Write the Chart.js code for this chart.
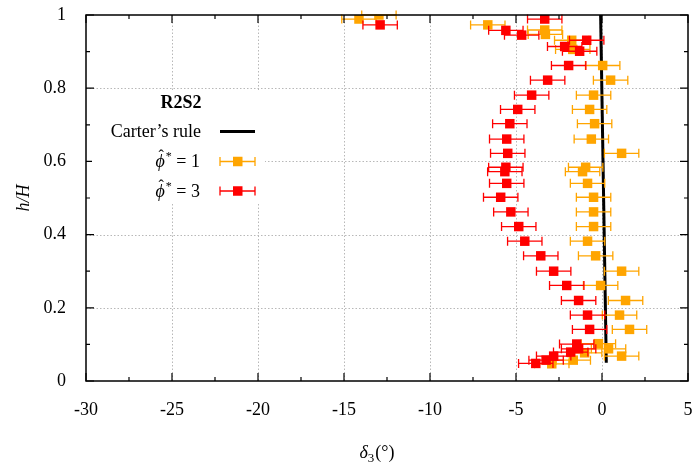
<!DOCTYPE html>
<html>
<head>
<meta charset="utf-8">
<script src="https://cdn.jsdelivr.net/npm/chart.js@4.4.1/dist/chart.umd.min.js"></script>
<style>
  html, body { margin: 0; padding: 0; background: #fff; }
  canvas { display: block; }
</style>
</head>
<body>
<canvas id="deltaChart" width="697" height="465"></canvas>
<script>
// phi* = 1 measurements (delta_3 in degrees, h/H, half width of error bar)
const phi1X = [-12.97, -14.13, -6.64, -3.33, -3.29, -1.76, -1.70, 0.04, 0.50, -0.49, -0.72,
  -0.43, -0.62, 1.14, -0.95, -1.13, -0.84, -0.49, -0.49, -0.49, -0.84, -0.37,
  1.14, -0.08, 1.37, 1.02, 1.60, -0.21, 0.38, -1.01, 1.14, -1.67, -2.92];
const phi1Y = [1.000, 0.989, 0.973, 0.959, 0.947, 0.931, 0.906, 0.862, 0.822, 0.781, 0.742,
  0.703, 0.661, 0.622, 0.584, 0.572, 0.540, 0.502, 0.462, 0.422, 0.382, 0.342,
  0.300, 0.261, 0.220, 0.180, 0.141, 0.102, 0.088, 0.077, 0.068, 0.057, 0.047];
const phi1Err = 1.0;

// phi* = 3 measurements
const phi3X = [-12.90, -3.33, -5.59, -4.67, -0.89, -2.17, -1.30, -1.94, -3.16, -4.09, -4.90,
  -5.36, -5.54, -5.48, -5.59, -5.65, -5.54, -5.89, -5.30, -4.84, -4.49, -3.56,
  -2.81, -2.05, -1.36, -0.84, -0.72, -1.47, -1.36, -1.82, -2.81, -3.25, -3.85];
const phi3Y = [0.973, 0.989, 0.958, 0.945, 0.931, 0.914, 0.901, 0.862, 0.822, 0.781, 0.742,
  0.703, 0.661, 0.622, 0.584, 0.572, 0.540, 0.502, 0.462, 0.422, 0.382, 0.342,
  0.300, 0.261, 0.220, 0.180, 0.141, 0.101, 0.088, 0.079, 0.068, 0.057, 0.048];
const phi3Err = 1.0;

// Carter's rule prediction
const carterX = [0.25, -0.08];
const carterY = [0.05, 1.0];

const xTickStep = 2.5;
const yTickStep = 0.1;

const SERIF = '"Liberation Serif", "Times New Roman", serif';
const ORANGE = '#ffa500';
const RED = '#ff0000';

function toPoints(xs, ys, err) {
    return xs.map((x, i) => ({ x: x, y: ys[i], err: err }));
}

function drawErrorBar(ctx, x0, x1, y, color) {
    ctx.strokeStyle = color;
    ctx.lineWidth = 1.3;
    ctx.beginPath();
    ctx.moveTo(x0, y); ctx.lineTo(x1, y);
    ctx.moveTo(x0, y - 4.5); ctx.lineTo(x0, y + 4.5);
    ctx.moveTo(x1, y - 4.5); ctx.lineTo(x1, y + 4.5);
    ctx.stroke();
}

const framePlugin = {
    id: 'framePlugin',
    beforeDatasetsDraw(chart) {
        // dotted grid at major ticks
        const { ctx, chartArea: a, scales: { x, y } } = chart;
        ctx.save();
        ctx.strokeStyle = '#b8b8b8';
        ctx.lineWidth = 1;
        ctx.setLineDash([1.5, 2]);
        ctx.beginPath();
        x.ticks.forEach(t => {
            if (Math.abs(t.value % 5) < 1e-9 && t.value > x.min && t.value < x.max) {
                const px = Math.round(x.getPixelForValue(t.value)) + 0.5;
                ctx.moveTo(px, a.top); ctx.lineTo(px, a.bottom);
            }
        });
        y.ticks.forEach(t => {
            const r = Math.round(t.value * 10);
            if (r % 2 === 0 && r > 0 && r < 10) {
                const py = Math.round(y.getPixelForValue(t.value)) + 0.5;
                ctx.moveTo(a.left, py); ctx.lineTo(a.right, py);
            }
        });
        ctx.stroke();
        ctx.restore();
    },
    beforeDatasetDraw(chart, args) {
        const ds = chart.data.datasets[args.index];
        if (!ds.errorBars) return;
        const { ctx, scales: { x, y } } = chart;
        ctx.save();
        ds.data.forEach(p => {
            drawErrorBar(ctx, x.getPixelForValue(p.x - p.err), x.getPixelForValue(p.x + p.err),
                y.getPixelForValue(p.y), ds.backgroundColor);
        });
        ctx.restore();
    },
    afterDatasetsDraw(chart) {
        const { ctx, chartArea: a, scales: { x, y } } = chart;
        ctx.save();

        // frame with inward tick marks on all four sides
        ctx.strokeStyle = '#000';
        ctx.lineWidth = 1.5;
        ctx.strokeRect(a.left, a.top, a.right - a.left, a.bottom - a.top);
        ctx.lineWidth = 1.2;
        ctx.beginPath();
        x.ticks.forEach(t => {
            const len = Math.abs(t.value % 5) < 1e-9 ? 8 : 4;
            const px = x.getPixelForValue(t.value);
            ctx.moveTo(px, a.bottom); ctx.lineTo(px, a.bottom - len);
            ctx.moveTo(px, a.top); ctx.lineTo(px, a.top + len);
        });
        y.ticks.forEach(t => {
            const len = Math.round(t.value * 10) % 2 === 0 ? 8 : 4;
            const py = y.getPixelForValue(t.value);
            ctx.moveTo(a.left, py); ctx.lineTo(a.left + len, py);
            ctx.moveTo(a.right, py); ctx.lineTo(a.right - len, py);
        });
        ctx.stroke();

        // key box
        ctx.fillStyle = '#fff';
        ctx.fillRect(92, 90, 173, 114);
        ctx.fillStyle = '#000';
        ctx.textBaseline = 'alphabetic';
        ctx.textAlign = 'center';
        ctx.font = 'bold 18px ' + SERIF;
        ctx.fillText('R2S2', 181, 108);

        ctx.textAlign = 'right';
        ctx.font = '18px ' + SERIF;
        ctx.fillText('Carter\u2019s rule', 201, 137);
        ctx.lineWidth = 3;
        ctx.beginPath();
        ctx.moveTo(220, 131.5); ctx.lineTo(255, 131.5);
        ctx.stroke();

        [[ORANGE, '1', 167, 161.5], [RED, '3', 197, 191]].forEach(([color, val, base, sy]) => {
            // right-aligned "phi-hat* = n"
            ctx.textAlign = 'left';
            ctx.font = '18px ' + SERIF;
            const tail = ' = ' + val;
            const tailW = ctx.measureText(tail).width;
            ctx.font = '12px ' + SERIF;
            const starW = ctx.measureText('*').width;
            ctx.font = 'italic 18px ' + SERIF;
            const phiW = ctx.measureText('\u03d5').width;
            const x0 = 200 - tailW - starW - phiW - 1;
            ctx.fillStyle = '#000';
            ctx.fillText('\u03d5', x0, base);
            ctx.font = '16px ' + SERIF;
            ctx.textAlign = 'center';
            ctx.fillText('\u02c6', x0 + phiW / 2 + 1, base - 6);
            ctx.textAlign = 'left';
            ctx.font = '12px ' + SERIF;
            ctx.fillText('*', x0 + phiW + 1, base - 7);
            ctx.font = '18px ' + SERIF;
            ctx.fillText(tail, x0 + phiW + starW + 1, base);

            drawErrorBar(ctx, 220, 255, sy, color);
            ctx.fillStyle = color;
            ctx.fillRect(233, sy - 4.75, 9.5, 9.5);
        });

        // x axis title: delta_3 (degrees)
        ctx.fillStyle = '#000';
        ctx.textAlign = 'left';
        ctx.font = 'italic 18px ' + SERIF;
        const dW = ctx.measureText('\u03b4').width;
        ctx.font = '13px ' + SERIF;
        const sW = ctx.measureText('3').width;
        ctx.font = '18px ' + SERIF;
        const pW = ctx.measureText('(\u00b0)').width;
        const tx = 377 - (dW + sW + pW + 1) / 2;
        ctx.font = 'italic 18px ' + SERIF;
        ctx.fillText('\u03b4', tx, 458);
        ctx.font = '13px ' + SERIF;
        ctx.fillText('3', tx + dW, 462);
        ctx.font = '18px ' + SERIF;
        ctx.fillText('(\u00b0)', tx + dW + sW + 1, 458);

        ctx.restore();
    }
};

const ctx = document.getElementById('deltaChart').getContext('2d');
new Chart(ctx, {
    type: 'scatter',
    data: {
        datasets: [{
            label: '\u03d5* = 3',
            data: toPoints(phi3X, phi3Y, phi3Err),
            backgroundColor: RED,
            borderWidth: 0,
            pointStyle: 'rect',
            pointRadius: 6.7,
            errorBars: true
        }, {
            label: '\u03d5* = 1',
            data: toPoints(phi1X, phi1Y, phi1Err),
            backgroundColor: ORANGE,
            borderWidth: 0,
            pointStyle: 'rect',
            pointRadius: 6.7,
            errorBars: true
        }, {
            label: 'Carter\u2019s rule',
            data: carterX.map((x, i) => ({ x: x, y: carterY[i] })),
            showLine: true,
            borderColor: '#000',
            borderWidth: 3,
            pointRadius: 0
        }]
    },
    options: {
        responsive: false,
        animation: false,
        events: [],
        layout: { padding: { top: 15, right: 9, left: 0, bottom: 0 } },
        plugins: {
            legend: { display: false },
            tooltip: { enabled: false }
        },
        scales: {
            x: {
                type: 'linear',
                min: -30,
                max: 5,
                grid: { display: false, drawTicks: false },
                border: { display: false },
                ticks: {
                    stepSize: xTickStep,
                    autoSkip: false,
                    maxRotation: 0,
                    padding: 18,
                    color: '#000',
                    font: { family: SERIF, size: 18 },
                    callback: v => Math.abs(v % 5) < 1e-9 ? String(v) : ''
                },
                afterFit(scale) {
                    scale.height = 84;
                    scale.paddingLeft = 0;
                    scale.paddingRight = 0;
                }
            },
            y: {
                type: 'linear',
                min: 0,
                max: 1,
                grid: { display: false, drawTicks: false },
                border: { display: false },
                ticks: {
                    stepSize: yTickStep,
                    autoSkip: false,
                    padding: 20,
                    color: '#000',
                    font: { family: SERIF, size: 18 },
                    callback: v => {
                        const r = Math.round(v * 10);
                        if (r % 2 !== 0) return '';
                        return r === 0 ? '0' : r === 10 ? '1' : (r / 10).toString();
                    }
                },
                title: {
                    display: true,
                    text: 'h/H',
                    color: '#000',
                    font: { family: SERIF, size: 18, style: 'italic' },
                    padding: { top: 13, bottom: 0 }
                },
                afterFit(scale) {
                    scale.width = 86;
                    scale.paddingTop = 0;
                    scale.paddingBottom = 0;
                }
            }
        }
    },
    plugins: [framePlugin]
});
</script>
</body>
</html>
